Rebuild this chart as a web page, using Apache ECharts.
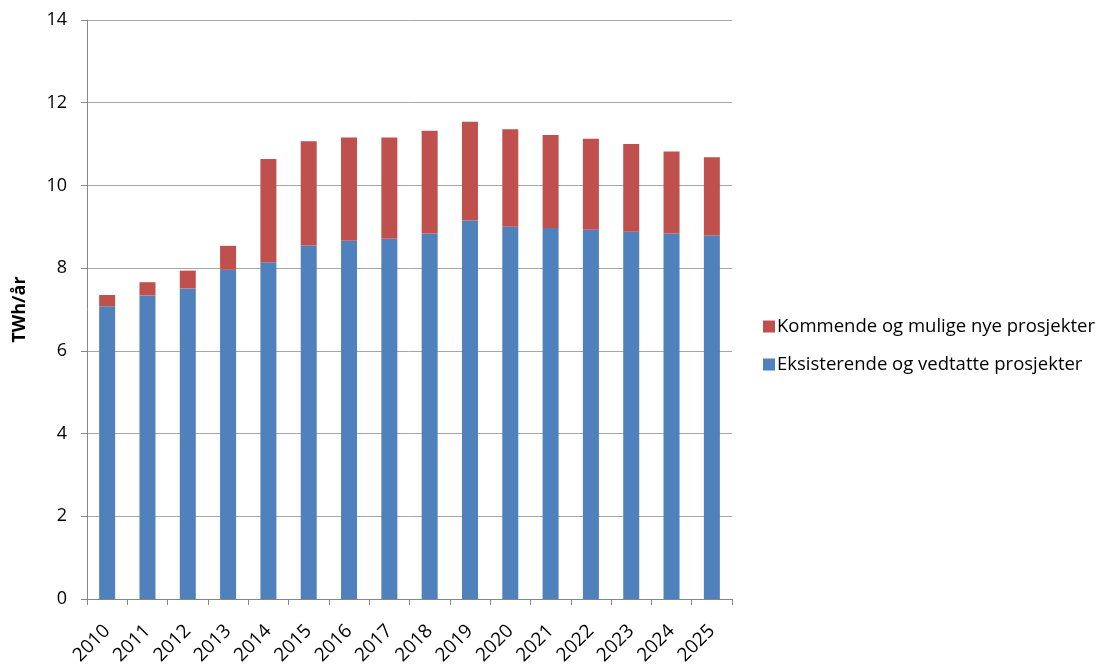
<!DOCTYPE html>
<html>
<head>
<meta charset="utf-8">
<script src="https://cdn.jsdelivr.net/npm/echarts@6/dist/echarts.min.js"></script>
<style>html,body{margin:0;padding:0;background:#fff}#c{width:1108px;height:666px}</style>
</head>
<body>
<div id="c"></div>
<script>
var categories = ['2010','2011','2012','2013','2014','2015','2016','2017','2018','2019','2020','2021','2022','2023','2024','2025'];
var existing = [7.08,7.34,7.51,7.96,8.14,8.55,8.66,8.71,8.84,9.15,9.00,8.97,8.93,8.88,8.84,8.79];
var upcoming = [0.27,0.32,0.43,0.58,2.50,2.52,2.50,2.45,2.48,2.39,2.36,2.25,2.20,2.12,1.98,1.89];
var yTicks = [0,2,4,6,8,10,12,14];

var font = 'Open Sans';
var chart = echarts.init(document.getElementById('c'));
chart.setOption({
  animation: false,
  textStyle: {fontFamily: font},
  grid: {left: 87, right: 376, top: 20, bottom: 67, containLabel: false, outerBoundsMode: 'none'},
  legend: {
    orient: 'vertical', left: 758, top: 312,
    itemWidth: 12, itemHeight: 12, itemGap: 19,
    icon: 'rect',
    data: ['Kommende og mulige nye prosjekter', 'Eksisterende og vedtatte prosjekter'],
    textStyle: {fontSize: 18.5, color: '#000', fontFamily: font, padding: [0,0,0,-3]}
  },
  xAxis: {
    type: 'category', data: categories,
    axisLine: {lineStyle: {color: '#868686'}},
    axisTick: {show: true, length: 6, lineStyle: {color: '#868686'}},
    axisLabel: {rotate: 45, fontSize: 19, color: '#000', margin: 29, interval: 0}
  },
  yAxis: {
    type: 'value', min: yTicks[0], max: yTicks[yTicks.length-1], interval: 2,
    name: 'TWh/år', nameLocation: 'middle', nameGap: 58,
    nameTextStyle: {fontSize: 18, fontWeight: 'bold', color: '#000', fontFamily: font},
    axisLine: {show: true, lineStyle: {color: '#868686'}},
    axisTick: {show: true, length: 6, inside: false, lineStyle: {color: '#868686'}},
    axisLabel: {fontSize: 18, color: '#000', margin: 20},
    splitLine: {lineStyle: {color: '#A6A6A6', width: 1}}
  },
  series: [
    {name: 'Eksisterende og vedtatte prosjekter', type: 'bar', stack: 'a', data: existing,
     barWidth: 16, itemStyle: {color: '#4F81BD'}},
    {name: 'Kommende og mulige nye prosjekter', type: 'bar', stack: 'a', data: upcoming,
     barWidth: 16, itemStyle: {color: '#C0504D'}}
  ]
});
</script>
</body>
</html>
